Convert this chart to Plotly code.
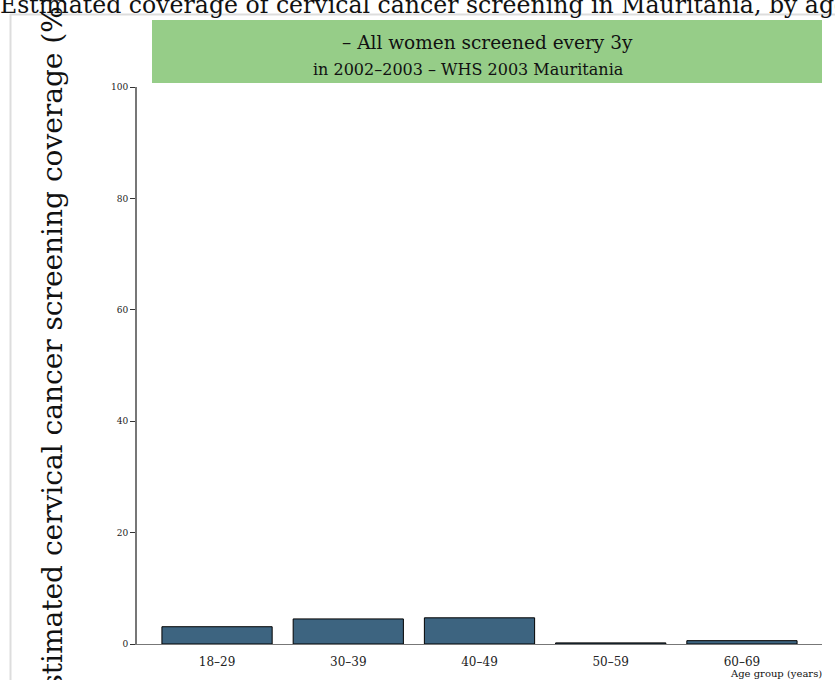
import plotly.graph_objects as go

categories = ["18–29", "30–39", "40–49", "50–59", "60–69"]
coverage = [3.1, 4.5, 4.7, 0.2, 0.6]
y_ticks = [0, 20, 40, 60, 80, 100]

title_text = "Estimated coverage of cervical cancer screening in Mauritania, by age group"
ytitle_text = "Estimated cervical cancer screening coverage (%)"
box_line1 = "– All women screened every 3y"
box_line2 = "in 2002–2003 – WHS 2003 Mauritania"
xlabel_text = "Age group (years)"

W, H = 835, 680
L, R, T, B = 137, 13, 87, 36
pw, ph = W - L - R, H - T - B

def px_x(p):
    return (p - L) / pw

def px_y(p):
    return (H - B - p) / ph

fig = go.Figure()
fig.add_trace(go.Bar(
    x=categories, y=coverage,
    marker=dict(color="#3d6480", line=dict(color="#000000", width=1)),
    width=0.84,
    hoverinfo="x+y",
))

serif = "DejaVu Serif"
fig.update_layout(
    width=W, height=H,
    margin=dict(l=L, r=R, t=T, b=B, pad=0),
    paper_bgcolor="white", plot_bgcolor="white",
    showlegend=False,
    xaxis=dict(
        range=[-0.61, 4.61], showgrid=False, zeroline=False,
        showline=True, linecolor="#777777", linewidth=1,
        ticks="", tickfont=dict(family=serif, size=12, color="#222"),
        ticklabelstandoff=7,
        fixedrange=True,
    ),
    yaxis=dict(
        range=[0, 100], tickvals=y_ticks, showgrid=False, zeroline=False,
        showline=True, linecolor="#777777", linewidth=2,
        ticks="outside", ticklen=5, tickcolor="#333", tickwidth=1,
        tickfont=dict(family=serif, size=9, color="#222"),
        fixedrange=True,
    ),
    shapes=[
        dict(type="line", xref="paper", yref="paper",
             x0=px_x(10), x1=px_x(W + 5), y0=px_y(14.5), y1=px_y(14.5),
             line=dict(color="#dddddd", width=2)),
        dict(type="line", xref="paper", yref="paper",
             x0=px_x(10.5), x1=px_x(10.5), y0=px_y(14), y1=px_y(H + 5),
             line=dict(color="#dddddd", width=2)),
        dict(type="rect", xref="paper", yref="paper",
             x0=px_x(152), x1=px_x(822), y0=px_y(83), y1=px_y(20),
             fillcolor="#96cd88", line=dict(width=0), layer="below"),
    ],
    annotations=[
        dict(text=title_text, xref="paper", yref="paper",
             x=px_x(-2), y=px_y(21), xanchor="left", yanchor="bottom",
             showarrow=False, font=dict(family=serif, size=23.6, color="#111")),
        dict(text=ytitle_text, xref="paper", yref="paper", textangle=-90,
             x=px_x(52), y=px_y(352), xanchor="center", yanchor="middle",
             showarrow=False, font=dict(family=serif, size=28, color="#111")),
        dict(text=box_line1, xref="paper", yref="paper",
             x=px_x(487), y=px_y(42), xanchor="center", yanchor="middle",
             showarrow=False, font=dict(family=serif, size=18.5, color="#111")),
        dict(text=box_line2, xref="paper", yref="paper",
             x=px_x(468), y=px_y(69), xanchor="center", yanchor="middle",
             showarrow=False, font=dict(family=serif, size=16, color="#111")),
        dict(text=xlabel_text, xref="paper", yref="paper",
             x=px_x(824), y=px_y(673), xanchor="right", yanchor="middle",
             showarrow=False, font=dict(family=serif, size=10, color="#111")),
    ],
)

fig.write_html("out.html", config={"displayModeBar": False},
               post_script="document.body.style.margin='0';document.body.style.overflow='hidden';")
